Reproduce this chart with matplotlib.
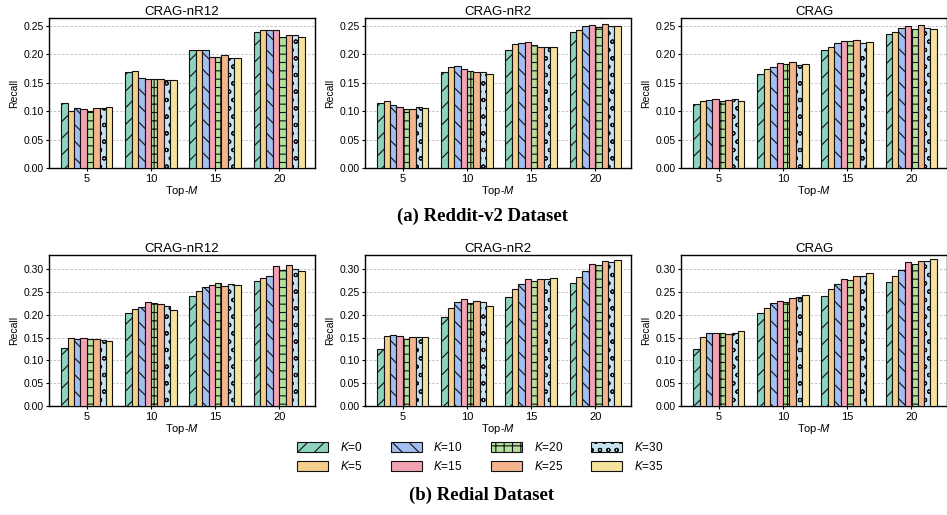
import matplotlib
matplotlib.use("Agg")
import matplotlib.pyplot as plt
import numpy as np

plt.rcParams.update({
    'font.family': ['Liberation Sans', 'DejaVu Sans'],
    'mathtext.fontset': 'custom',
    'mathtext.it': 'Liberation Sans:italic',
    'mathtext.rm': 'Liberation Sans',
    'hatch.linewidth': 0.8,
})

# ── Data ────────────────────────────────────────────────────────────
top_m = ["5", "10", "15", "20"]
k_values = [0, 5, 10, 15, 20, 25, 30, 35]
titles = ["CRAG-nR12", "CRAG-nR2", "CRAG"]

# (a) Reddit-v2: rows = K, cols = Top-M
reddit_nr12 = [
    [0.114, 0.168, 0.207, 0.239],
    [0.101, 0.171, 0.208, 0.243],
    [0.105, 0.159, 0.207, 0.242],
    [0.104, 0.157, 0.196, 0.242],
    [0.100, 0.156, 0.195, 0.231],
    [0.105, 0.157, 0.198, 0.233],
    [0.106, 0.155, 0.194, 0.234],
    [0.107, 0.154, 0.193, 0.230],
]
reddit_nr2 = [
    [0.114, 0.168, 0.207, 0.239],
    [0.118, 0.177, 0.218, 0.243],
    [0.111, 0.179, 0.219, 0.249],
    [0.107, 0.174, 0.222, 0.252],
    [0.104, 0.170, 0.217, 0.248],
    [0.104, 0.168, 0.213, 0.254],
    [0.107, 0.168, 0.213, 0.249],
    [0.105, 0.165, 0.212, 0.249],
]
reddit_crag = [
    [0.112, 0.165, 0.208, 0.235],
    [0.117, 0.174, 0.213, 0.239],
    [0.119, 0.178, 0.219, 0.246],
    [0.121, 0.184, 0.224, 0.249],
    [0.118, 0.182, 0.223, 0.245],
    [0.120, 0.186, 0.225, 0.251],
    [0.122, 0.181, 0.219, 0.246],
    [0.118, 0.182, 0.221, 0.245],
]

# (b) Redial
redial_nr12 = [
    [0.128, 0.203, 0.242, 0.275],
    [0.150, 0.212, 0.253, 0.280],
    [0.148, 0.218, 0.260, 0.286],
    [0.149, 0.227, 0.266, 0.306],
    [0.146, 0.226, 0.269, 0.299],
    [0.146, 0.224, 0.263, 0.310],
    [0.144, 0.220, 0.268, 0.301],
    [0.142, 0.210, 0.265, 0.297],
]
redial_nr2 = [
    [0.125, 0.196, 0.239, 0.269],
    [0.153, 0.216, 0.257, 0.282],
    [0.155, 0.228, 0.268, 0.297],
    [0.153, 0.234, 0.279, 0.312],
    [0.147, 0.226, 0.274, 0.309],
    [0.151, 0.230, 0.279, 0.318],
    [0.151, 0.229, 0.278, 0.316],
    [0.151, 0.220, 0.280, 0.321],
]
redial_crag = [
    [0.126, 0.204, 0.242, 0.272],
    [0.152, 0.216, 0.257, 0.285],
    [0.159, 0.226, 0.268, 0.298],
    [0.161, 0.231, 0.278, 0.315],
    [0.160, 0.229, 0.277, 0.312],
    [0.158, 0.236, 0.286, 0.319],
    [0.161, 0.240, 0.286, 0.319],
    [0.165, 0.244, 0.291, 0.323],
]

colors = ['#8dd3c0', '#f5d08c', '#a3bff0', '#f4a3b3',
          '#b5e09c', '#f4b48e', '#c7e3f0', '#f5e29c']
hatches = ['//', '', '\\\\', '', '++', '', 'oo', '']

# ── Figure ──────────────────────────────────────────────────────────
fig = plt.figure(figsize=(9.47, 5.15), dpi=100)

lefts = [0.0517, 0.3854, 0.7191]
w = 0.281
rows = [
    (0.6738, 0.291, [reddit_nr12, reddit_nr2, reddit_crag], (0, 0.2635),
     [0.0, 0.05, 0.10, 0.15, 0.20, 0.25]),
    (0.2117, 0.293, [redial_nr12, redial_nr2, redial_crag], (0, 0.331),
     [0.0, 0.05, 0.10, 0.15, 0.20, 0.25, 0.30]),
]

x = np.arange(len(top_m))
bw = 0.1
handles = None
for bottom, h, datasets, ylim, yticks in rows:
    for j, data in enumerate(datasets):
        ax = fig.add_axes([lefts[j], bottom, w, h])
        bars = []
        for i, k in enumerate(k_values):
            b = ax.bar(x + (i - 3.5) * bw, data[i], width=bw,
                       color=colors[i], edgecolor='#111111', linewidth=0.8,
                       hatch=hatches[i], zorder=3, label=f"$K$={k}")
            bars.append(b)
        handles = bars
        ax.set_xlim(-0.59, 3.56)
        ax.set_ylim(*ylim)
        ax.set_yticks(yticks)
        ax.set_yticklabels([f"{t:.2f}" for t in yticks])
        ax.set_xticks(x)
        ax.set_xticklabels(top_m)
        ax.tick_params(axis='y', labelsize=7.5, length=2.5, width=0.8, pad=1.5)
        ax.tick_params(axis='x', labelsize=8, length=2.5, width=0.8, pad=1.5)
        ax.yaxis.grid(True, linestyle=(0, (3, 2)), color='#bbbbbb',
                      linewidth=0.6, zorder=0)
        ax.set_axisbelow(True)
        for s in ax.spines.values():
            s.set_linewidth(1.0)
        ax.set_title(titles[j], fontsize=9.5, pad=2)
        ax.set_ylabel("Recall", fontsize=7.5, labelpad=3)
        ax.set_xlabel("Top-$M$", fontsize=8, labelpad=0.5)

fig.text(0.509, 0.579, "(a) Reddit-v2 Dataset", ha='center', va='center',
         fontsize=13.5, fontweight='bold', family='Liberation Serif')
fig.text(0.509, 0.039, "(b) Redial Dataset", ha='center', va='center',
         fontsize=13.5, fontweight='bold', family='Liberation Serif')

fig.legend(handles=handles, loc='center', bbox_to_anchor=(0.507, 0.1126),
           ncol=4, frameon=False, fontsize=8.5, handlelength=2.6,
           handleheight=0.9, columnspacing=2.4, labelspacing=0.5,
           handletextpad=1.0)

fig.savefig("out.png", dpi=100)
